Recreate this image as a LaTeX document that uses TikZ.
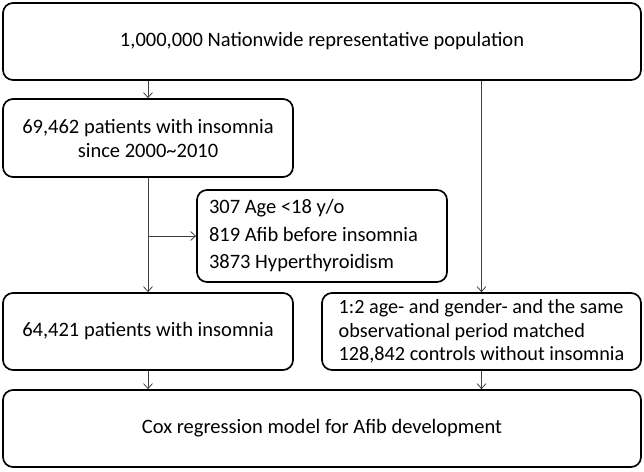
\documentclass[tikz,border=0pt]{standalone}
\usepackage{fontspec}
\setmainfont{Carlito}
\usetikzlibrary{arrows.meta}
\begin{document}
\begin{tikzpicture}[x=1pt,y=-1pt,
  box/.style={draw,line width=1.7pt,rounded corners=10pt,inner sep=0pt,font=\fontsize{20.5}{24}\selectfont},
  arr/.style={line width=0.8pt,draw=black!75,-{Straight Barb[length=5pt,width=9pt]}}]
\useasboundingbox (0,0) rectangle (644,471);
\node[box,minimum width=638pt,minimum height=77pt] (top) at (322,41.5) {1,000,000 Nationwide representative population};
\node[box,minimum width=290pt,minimum height=78pt,align=center] (ins) at (148,138) {69,462 patients with insomnia\\since 2000\textasciitilde2010};
\node[box,minimum width=250pt,minimum height=92pt,align=flush left,text width=226pt,font=\fontsize{20.5}{27.5}\selectfont] (exc) at (322,236) {307 Age <18 y/o\\819 Afib before insomnia\\3873 Hyperthyroidism};
\node[box,minimum width=290pt,minimum height=77pt] (pat) at (148,331.5) {64,421 patients with insomnia};
\node[box,minimum width=319pt,minimum height=77pt,align=left,font=\fontsize{20.2}{23.5}\selectfont] (ctl) at (481.5,331.5) {1:2 age- and gender- and the same\\observational period matched\\128,842 controls without insomnia};
\node[box,minimum width=638pt,minimum height=77pt] (cox) at (322,428.5) {Cox regression model for Afib development};
\coordinate (br) at (ins.south |- exc.west);
\draw[arr] (top.south -| ins.north) -- (ins.north);
\draw[arr] (top.south -| ctl.north) -- (ctl.north);
\draw[arr] (ins.south) -- (pat.north);
\draw[arr] (br) -- (exc.west);
\draw[arr] (pat.south) -- (cox.north -| pat.south);
\draw[arr] (ctl.south) -- (cox.north -| ctl.south);
\end{tikzpicture}
\end{document}
